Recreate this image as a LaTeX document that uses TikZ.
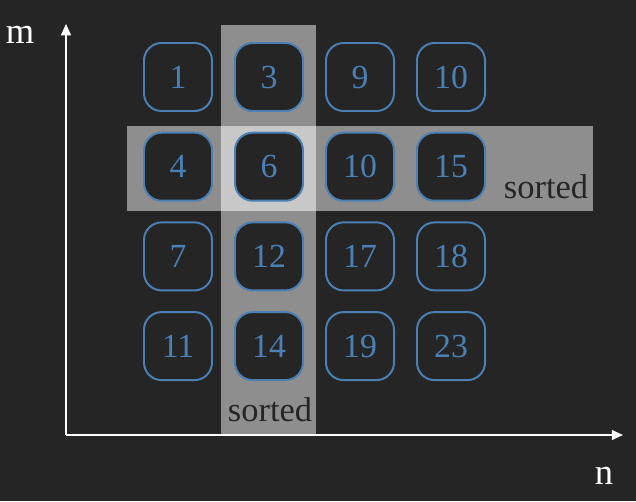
\documentclass[tikz,border=0pt]{standalone}
\usepackage{fontspec}
\setmainfont{Liberation Serif}
\usetikzlibrary{arrows.meta}
\definecolor{bgdark}{HTML}{252525}
\definecolor{cellblue}{HTML}{4A80B4}
\definecolor{stripgray}{HTML}{8E8E8E}
\definecolor{crossgray}{HTML}{C8C8C8}
\tikzset{
	cell/.style={draw=cellblue,line width=1.4pt,fill=bgdark,rounded corners=0.44cm,
		minimum size=1.7cm,inner sep=0pt,text=cellblue,font=\fontsize{24}{24}\selectfont},
	axis/.style={draw=white,line width=1.4pt,-{Triangle[width=7pt,length=8pt]}},
	tag/.style={text=bgdark,font=\fontsize{24.5}{24.5}\selectfont,inner sep=0pt},
	axlabel/.style={text=white,font=\fontsize{26}{26}\selectfont,inner sep=0pt}
}
\begin{document}
\begin{tikzpicture}[x=0.025cm,y=-0.025cm]
	\fill[bgdark] (0,0) rectangle (636,501);
	% sorted strips
	\fill[stripgray] (221,25) rectangle (316,435);
	\fill[stripgray] (127,126) rectangle (593,211);
	\fill[crossgray] (221,126) rectangle (316,211);
	% the matrix
	\foreach \v [count=\k from 0] in {1,3,9,10,4,6,10,15,7,12,17,18,11,14,19,23}{
		\pgfmathtruncatemacro{\r}{div(\k,4)}
		\pgfmathtruncatemacro{\c}{mod(\k,4)}
		\node[cell] (c\r\c) at (178+91*\c,77+89.7*\r) {\v};
	}
	\node[tag] (rowtag) at (546,187) {sorted};
	\node[tag] (coltag) at (270,410) {sorted};
	% axes
	\coordinate (origin) at (66,435);
	\coordinate (mtop) at (66,24);
	\coordinate (nend) at (623,435);
	\draw[axis] (origin) -- (mtop);
	\draw[axis] (origin) -- (nend);
	\node[axlabel] (mlabel) at (20,35) {m};
	\node[axlabel] (nlabel) at (604,476) {n};
\end{tikzpicture}
\end{document}
